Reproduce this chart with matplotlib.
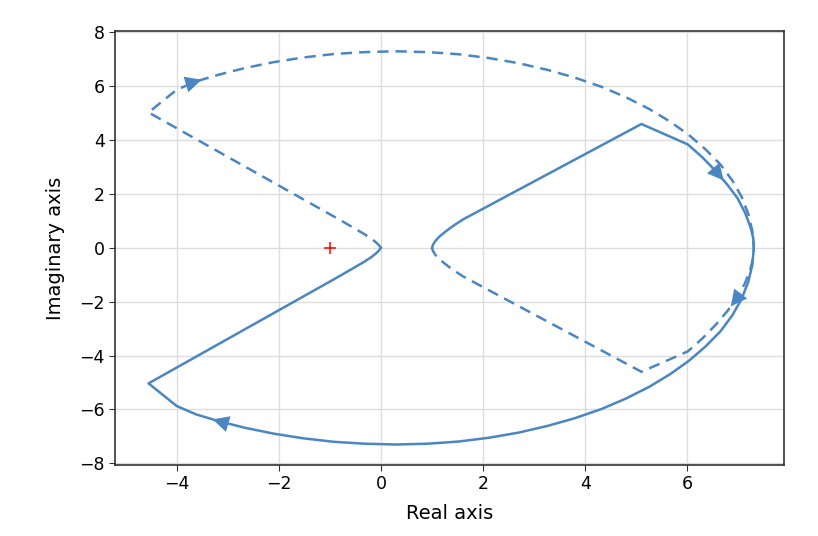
import numpy as np
import matplotlib
matplotlib.use("Agg")
import matplotlib.pyplot as plt
from matplotlib.patches import FancyArrowPatch

# Nyquist curve for positive frequencies
re_pos = [1.0, 1.02, 1.07, 1.15, 1.26, 1.4, 1.6, 5.1, 6.01, 6.3, 6.56, 6.78, 6.98, 7.13,
          7.24, 7.29, 7.30, 7.27, 7.19, 7.06, 6.88, 6.65, 6.36, 6.03, 5.66, 5.25, 4.80,
          4.32, 3.80, 3.26, 2.69, 2.11, 1.52, 0.91, 0.30, -0.32, -0.92, -1.52, -2.09,
          -2.66, -3.2, -3.62, -4.0, -4.55, -1.0, -0.75, -0.54, -0.35, -0.2, -0.1, -0.04, 0.0]
im_pos = [0.0, 0.12, 0.27, 0.43, 0.6, 0.8, 1.05, 4.6, 3.84, 3.35, 2.84, 2.35, 1.85, 1.3,
          0.74, 0.35, 0.0, -0.64, -1.27, -1.90, -2.50, -3.09, -3.65, -4.19, -4.69, -5.16, -5.59,
          -5.98, -6.32, -6.61, -6.86, -7.05, -7.19, -7.27, -7.30, -7.27, -7.20, -7.07, -6.90,
          -6.68, -6.42, -6.18, -5.87, -5.03, -1.25, -0.98, -0.75, -0.54, -0.36, -0.21, -0.1, 0.0]

# arrow positions as fractions of the curve length
arrow_frac_pos = [0.252, 0.752]
arrow_frac_neg = [0.238, 0.735]

critical_point = (-1.0, 0.0)
line_color = "#4a86c1"

plt.rcParams['font.family'] = ['DejaVu Sans']
fig = plt.figure(figsize=(8.18, 5.36), dpi=100)
ax = fig.add_axes([0.141, 0.133, 0.818, 0.809])

re_pos = np.array(re_pos)
im_pos = np.array(im_pos)
re_neg = re_pos[::-1]
im_neg = -im_pos[::-1]

ax.plot(re_pos, im_pos, '-', color=line_color, lw=1.8)
ax.plot(re_neg, im_neg, '--', color=line_color, lw=1.8, dashes=(4.5, 2.8))
ax.plot([critical_point[0]], [critical_point[1]], 'r+', ms=9, mew=1.1)


def add_arrows(xs, ys, fracs):
    seg = np.hypot(np.diff(xs), np.diff(ys))
    cum = np.concatenate([[0], np.cumsum(seg)])
    total = cum[-1]
    for f in fracs:
        s = f * total
        i = np.searchsorted(cum, s) - 1
        i = max(0, min(i, len(seg) - 1))
        t = (s - cum[i]) / seg[i]
        x = xs[i] + t * (xs[i + 1] - xs[i])
        y = ys[i] + t * (ys[i + 1] - ys[i])
        dx = (xs[i + 1] - xs[i]) / seg[i]
        dy = (ys[i + 1] - ys[i]) / seg[i]
        p = FancyArrowPatch((x - dx * 0.05, y - dy * 0.05), (x + dx * 0.05, y + dy * 0.05),
                            arrowstyle='-|>,head_length=0.9,head_width=0.45',
                            mutation_scale=13, color=line_color, lw=0)
        ax.add_patch(p)


add_arrows(re_pos, im_pos, arrow_frac_pos)
add_arrows(re_neg, im_neg, arrow_frac_neg)

ax.set_xlim(-5.2, 7.9)
ax.set_ylim(-8.05, 8.05)
ax.set_xticks([-4, -2, 0, 2, 4, 6])
ax.set_yticks([-8, -6, -4, -2, 0, 2, 4, 6, 8])
ax.grid(True, color='#dddddd', lw=1.0)
ax.set_axisbelow(True)
for s in ax.spines.values():
    s.set_color('#333333')
    s.set_linewidth(1.2)
ax.tick_params(labelsize=12.5, length=4.5, color='#333333', pad=3)
ax.set_xlabel('Real axis', fontsize=14, labelpad=8)
ax.set_ylabel('Imaginary axis', fontsize=14, labelpad=10)

fig.savefig('out.png', dpi=100)
